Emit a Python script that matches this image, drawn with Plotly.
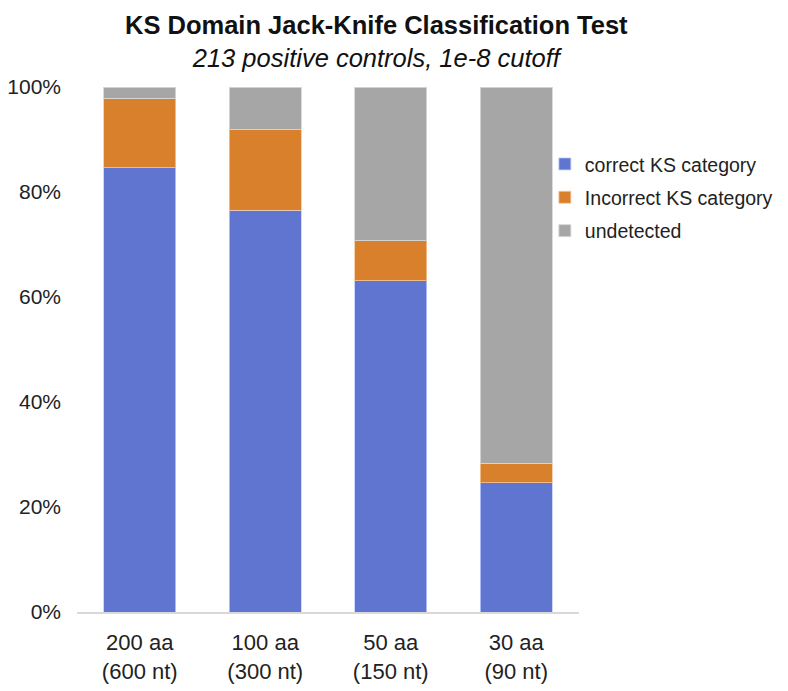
import plotly.graph_objects as go

categories = ["200 aa<br>(600 nt)", "100 aa<br>(300 nt)", "50 aa<br>(150 nt)", "30 aa<br>(90 nt)"]
correct = [0.846, 0.765, 0.631, 0.246]
incorrect = [0.133, 0.154, 0.076, 0.037]
undetected = [0.021, 0.081, 0.293, 0.717]

series = [
    ("correct KS category", correct, "#5F75CF", "rgba(190,205,255,0.8)"),
    ("Incorrect KS category", incorrect, "#D9802C", "rgba(245,200,160,0.8)"),
    ("undetected", undetected, "#A6A6A6", "rgba(215,215,215,0.9)"),
]

FONT = "Liberation Sans, Arial, Helvetica, sans-serif"

fig = go.Figure()
for name, vals, color, edge in series:
    fig.add_trace(
        go.Bar(
            x=categories,
            y=vals,
            name=name,
            legendgroup=name,
            marker=dict(color=color, line=dict(color=edge, width=1)),
        )
    )

# page body has an 8px margin, so the figure is a bit smaller than the window
fig.update_layout(
    width=780,
    height=683,
    barmode="stack",
    bargap=0.427,
    plot_bgcolor="white",
    paper_bgcolor="white",
    font=dict(family=FONT, size=22, color="#222222"),
    margin=dict(l=69, r=209, t=79, b=79, autoexpand=False),
    legend=dict(
        x=0.932,
        y=0.89,
        xanchor="left",
        yanchor="top",
        traceorder="grouped",
        tracegroupgap=5,
        font=dict(size=19.5, color="#222222"),
        bgcolor="rgba(0,0,0,0)",
    ),
    annotations=[
        # title and subtitle in one block
        dict(
            text="<b>KS Domain Jack-Knife Classification Test</b><br>"
            "<i>213 positive controls, 1e-8 cutoff</i>",
            xref="paper",
            yref="paper",
            x=0.596,
            y=1.149,
            xanchor="center",
            yanchor="top",
            showarrow=False,
            font=dict(size=25.5, color="#111111"),
        ),
    ],
)

fig.update_yaxes(
    range=[0, 1],
    dtick=0.2,
    tickformat=".0%",
    tickfont=dict(size=21),
    showgrid=False,
    zeroline=False,
    showline=False,
    ticks="",
    ticklen=0,
    ticklabelstandoff=15,
    automargin=False,
)
fig.update_xaxes(
    showline=True,
    linecolor="#D9D9D9",
    linewidth=1.5,
    ticks="",
    showgrid=False,
    ticklabelstandoff=10,
    automargin=False,
)

fig.write_html("out.html")
